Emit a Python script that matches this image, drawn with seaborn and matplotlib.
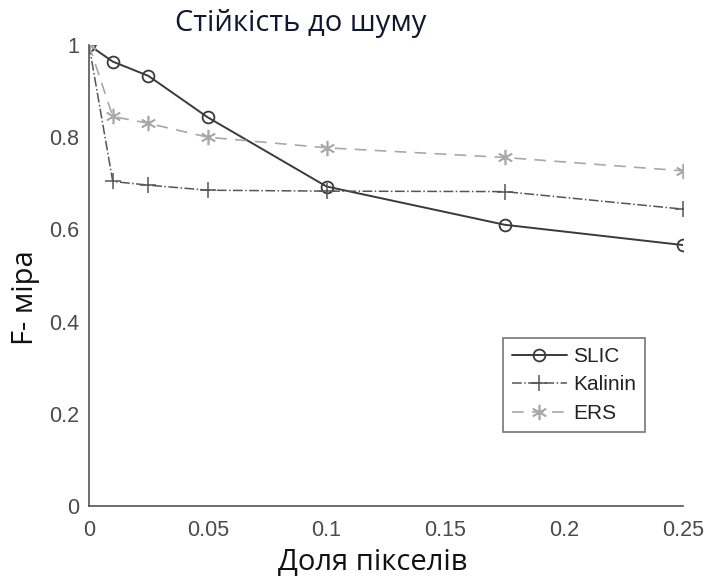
import matplotlib
matplotlib.use("Agg")
import matplotlib.pyplot as plt
import seaborn as sns
import pandas as pd

# Data
x_vals = [0, 0.01, 0.025, 0.05, 0.1, 0.175, 0.25]
slic = [1.0, 0.964, 0.933, 0.843, 0.693, 0.610, 0.566]
kalinin = [1.0, 0.704, 0.696, 0.685, 0.683, 0.682, 0.644]
ers = [1.0, 0.845, 0.830, 0.800, 0.777, 0.756, 0.727]
series_names = ["SLIC", "Kalinin", "ERS"]
x_ticks = [0, 0.05, 0.1, 0.15, 0.2, 0.25]
x_tick_labels = ["0", "0.05", "0.1", "0.15", "0.2", "0.25"]
y_ticks = [0, 0.2, 0.4, 0.6, 0.8, 1.0]
y_tick_labels = ["0", "0.2", "0.4", "0.6", "0.8", "1"]
title = "Стійкість до шуму"
x_label = "Доля пікселів"
y_label = "F- міра"

sns.set_style("white")
plt.rcParams["font.family"] = ["Liberation Sans", "DejaVu Sans"]

df = pd.DataFrame({
    "x": x_vals * 3,
    "y": slic + kalinin + ers,
    "series": [series_names[0]] * len(x_vals) + [series_names[1]] * len(x_vals) + [series_names[2]] * len(x_vals),
})

fig = plt.figure(figsize=(7.05, 5.77), dpi=100)
ax = fig.add_axes([89 / 705, 1 - 506 / 577, (683 - 89) / 705, (506 - 45) / 577])

styles = {
    "SLIC": dict(color="#3a3a3a", marker="o", linestyle="-", markersize=8.5, markerfacecolor="none",
                 markeredgecolor="#3a3a3a", markeredgewidth=1.3, linewidth=1.4),
    "Kalinin": dict(color="#555555", marker="+", linestyle="-.", markersize=11, markeredgewidth=1.1,
                    linewidth=1.1),
    "ERS": dict(color="#a8a8a8", marker=(6, 2, 0), linestyle=(0, (7, 5)), markersize=11, markeredgewidth=1.2,
                linewidth=1.2),
}
for name in series_names:
    sub = df[df["series"] == name]
    st = styles[name]
    sns.lineplot(data=sub, x="x", y="y", ax=ax, label=name, color=st["color"], marker=st["marker"],
                 linestyle=st["linestyle"], markersize=st["markersize"],
                 markeredgewidth=st["markeredgewidth"], linewidth=st["linewidth"],
                 markerfacecolor=st.get("markerfacecolor", st["color"]),
                 markeredgecolor=st.get("markeredgecolor", st["color"]), estimator=None)

ax.set_xlim(0, 0.25)
ax.set_ylim(0, 1)
ax.set_xticks(x_ticks)
ax.set_xticklabels(x_tick_labels)
ax.set_yticks(y_ticks)
ax.set_yticklabels(y_tick_labels)
ax.tick_params(direction="in", length=5, width=1, colors="#4d4d4d", labelsize=15.5,
               labelcolor="#4a4a4a")
ax.tick_params(axis="x", pad=10)
ax.tick_params(axis="y", pad=7)
for s in ["top", "right"]:
    ax.spines[s].set_visible(False)
for s in ["left", "bottom"]:
    ax.spines[s].set_color("#555555")
    ax.spines[s].set_linewidth(1.2)

ax.set_xlabel(x_label, fontsize=21, family=["Open Sans", "DejaVu Sans"], color="#111111")
ax.set_ylabel(y_label, fontsize=21, family=["Open Sans", "DejaVu Sans"], color="#111111")
ax.xaxis.set_label_coords((373 - 89) / 594, -(562 - 506) / 461)
ax.yaxis.set_label_coords((26 - 89) / 594, (506 - 298) / 461)
ax.xaxis.label.set_va("center")
ax.yaxis.label.set_va("center")
fig.text(301 / 705, 1 - 23 / 577, title, fontsize=21, family=["Open Sans", "DejaVu Sans"],
         color="#101830", ha="center", va="center")

leg = ax.legend(loc="lower left", bbox_to_anchor=(0.697, 0.160), fancybox=False, frameon=True,
                edgecolor="#555555", fontsize=15, handlelength=2.6, borderpad=0.45,
                labelspacing=0.45, handletextpad=0.3, borderaxespad=0)
leg.get_frame().set_linewidth(1.2)
for t in leg.get_texts():
    t.set_color("#222222")

fig.savefig("out.png", dpi=100)
